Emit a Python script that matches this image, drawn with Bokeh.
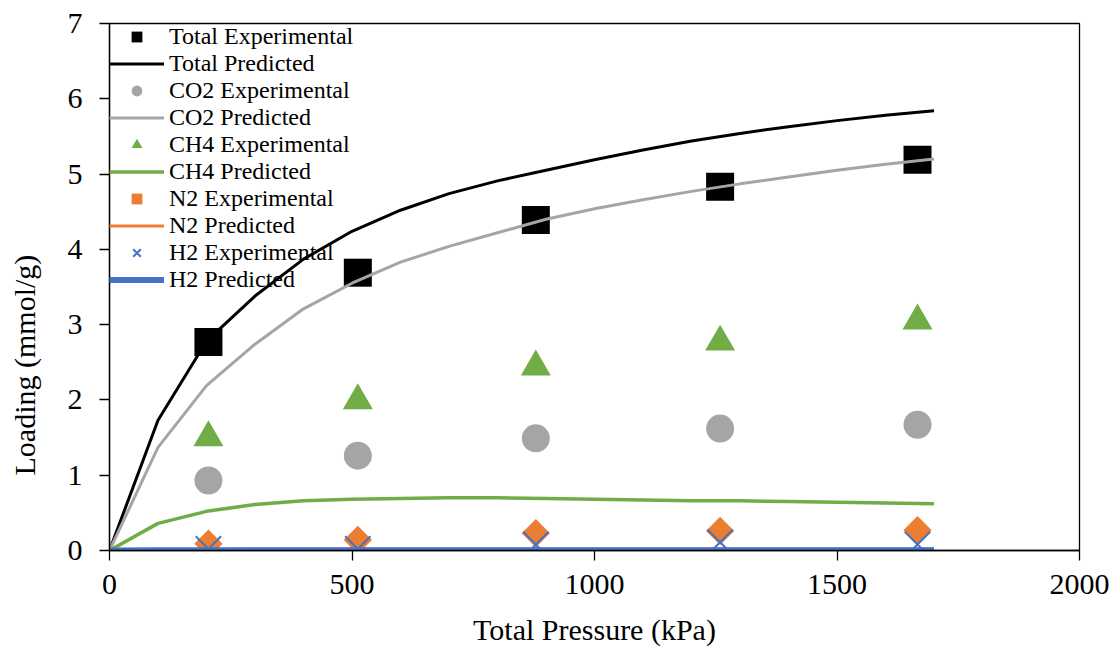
import numpy as np
from bokeh.plotting import figure
from bokeh.models import Range1d, Legend, LegendItem, Title, FixedTicker, LinearAxis
from bokeh.embed import file_html
from bokeh.resources import INLINE

# ---- data ----
pressure_exp = [204, 512, 879, 1259, 1666]
total_exp = [2.77, 3.69, 4.39, 4.83, 5.19]
co2_exp = [0.93, 1.26, 1.49, 1.62, 1.67]
ch4_exp = [1.50, 1.99, 2.44, 2.77, 3.05]
n2_exp = [0.09, 0.14, 0.23, 0.26, 0.27]
h2_exp = [0.02, 0.02, 0.08, 0.11, 0.08]

pressure_pred = [0, 100, 200, 300, 400, 500, 600, 700, 800, 900,
                 1000, 1100, 1200, 1300, 1400, 1500, 1600, 1700]
total_pred = [0.0, 1.73, 2.78, 3.38, 3.87, 4.24, 4.52, 4.74, 4.91, 5.05,
              5.19, 5.32, 5.44, 5.54, 5.63, 5.71, 5.78, 5.84]
co2_pred = [0.0, 1.37, 2.19, 2.74, 3.21, 3.55, 3.83, 4.04, 4.22, 4.40,
            4.54, 4.66, 4.77, 4.87, 4.96, 5.05, 5.13, 5.20]
ch4_pred = [0.0, 0.36, 0.52, 0.61, 0.66, 0.68, 0.69, 0.70, 0.70, 0.69,
            0.68, 0.67, 0.66, 0.66, 0.65, 0.64, 0.63, 0.62]
n2_pred = [0.0, 0.010, 0.014, 0.016, 0.018, 0.019, 0.020, 0.020, 0.021, 0.021,
           0.021, 0.021, 0.021, 0.021, 0.021, 0.021, 0.021, 0.021]
h2_pred = [0.0, 0.002, 0.003, 0.003, 0.004, 0.004, 0.004, 0.004, 0.004, 0.004,
           0.004, 0.004, 0.004, 0.004, 0.004, 0.004, 0.004, 0.004]

x_ticks = [0, 500, 1000, 1500, 2000]
y_ticks = [0, 1, 2, 3, 4, 5, 6, 7]

x_title = "Total Pressure (kPa)"
y_title = "Loading (mmol/g)"

BLACK = "#000000"
GRAY = "#A5A5A5"
GREEN = "#70AD47"
ORANGE = "#ED7D31"
BLUE = "#4472C4"
FONT = "Liberation Serif"

p = figure(frame_width=970, frame_height=527,
           min_border_left=109, min_border_right=35,
           min_border_top=23, min_border_bottom=97,
           x_range=Range1d(0, 2000), y_range=Range1d(0, 7),
           output_backend="svg", toolbar_location=None)

p.background_fill_color = "white"
p.border_fill_color = "white"
p.outline_line_color = "black"
p.outline_line_width = 1.3
p.xgrid.visible = False
p.ygrid.visible = False

for ax in (p.xaxis[0], p.yaxis[0]):
    ax.axis_line_color = "black"
    ax.axis_line_width = 1.3
    ax.major_tick_line_color = "black"
    ax.major_tick_line_width = 1.3
    ax.major_tick_in = 0
    ax.major_tick_out = 10
    ax.minor_tick_line_color = None
    ax.major_label_text_font = FONT
    ax.major_label_text_font_size = "30px"
    ax.major_label_text_color = "black"
    ax.axis_label_text_font = FONT
    ax.axis_label_text_font_size = "30px"
    ax.axis_label_text_font_style = "normal"
    ax.axis_label_text_color = "black"

p.xaxis[0].ticker = FixedTicker(ticks=x_ticks)
p.yaxis[0].ticker = FixedTicker(ticks=y_ticks)
p.xaxis[0].major_label_standoff = 14
p.yaxis[0].major_label_standoff = 17
p.xaxis[0].axis_label = x_title
p.xaxis[0].axis_label_standoff = 16

# empty spacer between the y tick labels and the y title
spacer = LinearAxis(ticker=FixedTicker(ticks=[0]), major_label_overrides={0: ""},
                    major_tick_out=24, major_tick_in=0, major_label_standoff=0,
                    axis_line_color=None, major_tick_line_color=None,
                    minor_tick_line_color=None, minor_tick_out=0)
p.add_layout(spacer, "left")

# y title: sits lower than the frame centre in the reference
p.add_layout(Title(text=y_title, align="left", offset=75, standoff=0,
                   vertical_align="bottom",
                   text_font=FONT, text_font_size="30px",
                   text_font_style="normal", text_color="black"), "left")

# ---- series, in Excel order ----
r_tot_e = p.scatter(pressure_exp, total_exp, marker="square", size=28,
                    fill_color=BLACK, line_color=None)
r_tot_p = p.line(pressure_pred, total_pred, line_color=BLACK, line_width=3)
r_co2_e = p.scatter(pressure_exp, co2_exp, marker="circle", size=28,
                    fill_color=GRAY, line_color=None)
r_co2_p = p.line(pressure_pred, co2_pred, line_color=GRAY, line_width=3)
r_ch4_e = p.scatter(pressure_exp, ch4_exp, marker="triangle", size=30,
                    fill_color=GREEN, line_color=None)
r_ch4_p = p.line(pressure_pred, ch4_pred, line_color=GREEN, line_width=3.5)
r_n2_e = p.scatter(pressure_exp, n2_exp, marker="square", size=20, angle=np.pi / 4,
                   fill_color=ORANGE, line_color=None)
r_n2_p = p.line(pressure_pred, n2_pred, line_color=ORANGE, line_width=3)
r_h2_e = p.scatter(pressure_exp, h2_exp, marker="x", size=36,
                   line_color=BLUE, line_width=2)
r_h2_p = p.line(pressure_pred, h2_pred, line_color=BLUE, line_width=6)

legend = Legend(items=[
    LegendItem(label="Total Experimental", renderers=[r_tot_e]),
    LegendItem(label="Total Predicted", renderers=[r_tot_p]),
    LegendItem(label="CO2 Experimental", renderers=[r_co2_e]),
    LegendItem(label="CO2 Predicted", renderers=[r_co2_p]),
    LegendItem(label="CH4 Experimental", renderers=[r_ch4_e]),
    LegendItem(label="CH4 Predicted", renderers=[r_ch4_p]),
    LegendItem(label="N2 Experimental", renderers=[r_n2_e]),
    LegendItem(label="N2 Predicted", renderers=[r_n2_p]),
    LegendItem(label="H2 Experimental", renderers=[r_h2_e]),
    LegendItem(label="H2 Predicted", renderers=[r_h2_p]),
], location="top_left")
legend.label_text_font = FONT
legend.label_text_font_size = "24px"
legend.label_text_color = "black"
legend.glyph_width = 55
legend.glyph_height = 27
legend.label_height = 24
legend.label_standoff = 5
legend.spacing = 0
legend.padding = 1
legend.margin = 0
legend.border_line_color = None
legend.background_fill_alpha = 0
p.add_layout(legend)

open("out.html", "w").write(file_html(p, INLINE))
